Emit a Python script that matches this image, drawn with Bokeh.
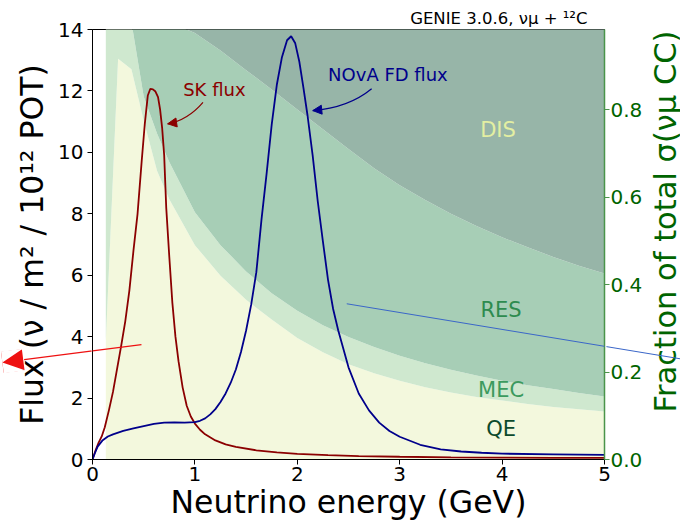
import numpy as np
from bokeh.plotting import figure
from bokeh.models import (Range1d, LinearAxis, Label, Arrow, NormalHead, OpenHead,
                          FixedTicker, NumeralTickFormatter)
from bokeh.embed import file_html
from bokeh.resources import INLINE

# ---------------- data ----------------
# cross-section fractions (right axis), per channel
e_frac = [0.13, 0.25, 0.38, 0.5, 0.63, 0.75, 1.0, 1.25, 1.5, 1.75, 2.0, 2.25, 2.5, 2.75,
          3.0, 3.25, 3.5, 3.75, 4.0, 4.25, 4.5, 4.75, 5.0]
qe_frac = [0.27, 0.916, 0.892, 0.775, 0.66, 0.595, 0.49, 0.42, 0.365, 0.32, 0.278, 0.245, 0.218,
           0.197, 0.18, 0.165, 0.153, 0.143, 0.135, 0.127, 0.12, 0.115, 0.11]
mec_frac = [0.73, 0.084, 0.108, 0.055, 0.085, 0.085, 0.075, 0.07, 0.065, 0.06, 0.062, 0.062,
            0.062, 0.06, 0.057, 0.055, 0.052, 0.049, 0.045, 0.043, 0.041, 0.037, 0.034]
res_frac = [0.0, 0.0, 0.0, 0.17, 0.255, 0.32, 0.41, 0.445, 0.46, 0.466, 0.46, 0.448, 0.43,
            0.409, 0.39, 0.373, 0.357, 0.342, 0.328, 0.315, 0.302, 0.291, 0.281]
dis_frac = [0.0, 0.0, 0.0, 0.0, 0.0, 0.0, 0.025, 0.065, 0.11, 0.154, 0.2, 0.245, 0.29, 0.334,
            0.373, 0.407, 0.438, 0.466, 0.492, 0.515, 0.537, 0.557, 0.575]

# SK flux
e_sk = [0.0, 0.03, 0.06, 0.09, 0.12, 0.16, 0.20, 0.24, 0.28, 0.32, 0.36, 0.40, 0.44, 0.48, 0.51, 0.54,
        0.565, 0.59, 0.615, 0.64, 0.66, 0.68, 0.70, 0.72, 0.75, 0.78, 0.81, 0.84, 0.88, 0.92, 0.96, 1.0,
        1.05, 1.1, 1.2, 1.3, 1.4, 1.6, 1.8, 2.0, 2.3, 2.6, 3.0, 3.5, 4.0, 4.5, 5.0]
flux_sk = [0.0, 0.3, 0.55, 0.75, 1.05, 1.6, 2.2, 2.95, 3.7, 4.5, 5.5, 6.8, 8.0, 9.7, 10.9, 11.85,
           12.07, 12.05, 11.98, 11.8, 11.4, 10.8, 9.9, 8.2, 6.6, 5.1, 4.0, 3.2, 2.35, 1.75, 1.4, 1.17,
           0.97, 0.82, 0.62, 0.49, 0.41, 0.30, 0.23, 0.18, 0.14, 0.11, 0.09, 0.07, 0.06, 0.05, 0.05]

# NOvA FD flux
e_nova = [0.0, 0.02, 0.05, 0.1, 0.15, 0.2, 0.3, 0.4, 0.5, 0.6, 0.7, 0.8, 0.9, 1.0, 1.05, 1.1, 1.15,
          1.2, 1.25, 1.3, 1.35, 1.4, 1.45, 1.5, 1.55, 1.6, 1.65, 1.7, 1.75, 1.8, 1.85, 1.9, 1.94,
          1.98, 2.02, 2.06, 2.1, 2.15, 2.2, 2.25, 2.3, 2.35, 2.4, 2.5, 2.6, 2.7, 2.8, 2.9, 3.0,
          3.2, 3.4, 3.6, 3.8, 4.0, 4.5, 5.0]
flux_nova = [0.0, 0.18, 0.42, 0.63, 0.75, 0.82, 0.93, 1.01, 1.09, 1.16, 1.2, 1.21, 1.2, 1.22, 1.26,
             1.34, 1.47, 1.64, 1.87, 2.15, 2.5, 2.93, 3.5, 4.2, 5.05, 6.1, 7.8, 9.3, 10.9, 12.2,
             13.1, 13.65, 13.78, 13.55, 12.95, 12.1, 11.2, 9.9, 8.4, 7.1, 5.85, 4.9, 4.2, 3.0, 2.15,
             1.6, 1.2, 0.93, 0.74, 0.48, 0.33, 0.26, 0.22, 0.19, 0.17, 0.15]

x_ticks = [0, 1, 2, 3, 4, 5]
y_ticks = [0, 2, 4, 6, 8, 10, 12, 14]
frac_ticks = [0.0, 0.2, 0.4, 0.6, 0.8]

channel_names = ["QE", "MEC", "RES", "DIS"]
channel_colors = ["#f3f8dd", "#cfe8cf", "#a7ceb6", "#97b5a8"]
channel_text_colors = ["#0b4a2c", "#3c9a5e", "#2e8b4f", "#e3efa2"]
channel_label_pos = [(3.99, 0.07), (3.99, 0.158), (3.99, 0.342), (3.96, 0.754)]

FONT = "DejaVu Sans"
PX = np.array([102.6, 30.71])   # approx. pixels per data unit (x: GeV, y: flux) in the frame

# ---------------- figure ----------------
p = figure(width=680, height=525, x_range=Range1d(0, 5), y_range=Range1d(0, 14),
           output_backend="svg", toolbar_location=None,
           min_border_left=92, min_border_right=75, min_border_top=29, min_border_bottom=66)
p.extra_y_ranges = {"frac": Range1d(0, 0.983)}
p.grid.visible = False
p.outline_line_color = "black"
p.outline_line_width = 1
p.background_fill_color = "white"
p.border_fill_color = "white"

p.title.text = "GENIE 3.0.6, νμ + ¹²C"
p.title.align = "right"
p.title.offset = 17
p.title.standoff = 3
p.title.text_font = FONT
p.title.text_font_size = "16.5px"
p.title.text_font_style = "normal"
p.title.text_color = "black"

# stacked fractions
fr = [np.array(qe_frac), np.array(mec_frac), np.array(res_frac), np.array(dis_frac)]
cum = np.zeros(len(e_frac))
for f, c in zip(fr, channel_colors):
    top = cum + f
    p.varea(x=e_frac, y1=cum.copy(), y2=top.copy(), fill_color=c, fill_alpha=1.0, y_range_name="frac")
    cum = top

for name, col, (lx, ly) in zip(channel_names, channel_text_colors, channel_label_pos):
    p.add_layout(Label(x=lx, y=ly, text=name, y_range_name="frac", text_align="center",
                       text_baseline="middle", text_color=col, text_font=FONT,
                       text_font_size="21px"))

# flux lines
p.line(e_sk, flux_sk, line_color="#8b0000", line_width=1.8)
p.line(e_nova, flux_nova, line_color="#00008b", line_width=1.8)

# annotations: SK
p.add_layout(Label(x=1.19, y=12.05, text="SK flux", text_align="center", text_baseline="middle",
                   text_color="#8b0000", text_font=FONT, text_font_size="18px"))
sk_t = (1.079, 11.63); sk_h = (0.734, 10.93); sk_c = (0.93, 11.05)
p.quadratic(x0=[sk_t[0]], y0=[sk_t[1]], x1=[sk_h[0]], y1=[sk_h[1]], cx=[sk_c[0]], cy=[sk_c[1]],
            line_color="#8b0000", line_width=1.2)
p.add_layout(Arrow(x_start=sk_h[0] + 0.06, y_start=sk_h[1] + 0.03, x_end=sk_h[0], y_end=sk_h[1],
                   line_color="#8b0000", line_width=1.2,
                   end=NormalHead(size=9, fill_color="#8b0000", line_color="#8b0000")))

# annotations: NOvA
p.add_layout(Label(x=2.885, y=12.53, text="NOvA FD flux", text_align="center", text_baseline="middle",
                   text_color="#00008b", text_font=FONT, text_font_size="18px"))
nv_t = (2.726, 12.07); nv_h = (2.151, 11.36); nv_c = (2.50, 11.45)
p.quadratic(x0=[nv_t[0]], y0=[nv_t[1]], x1=[nv_h[0]], y1=[nv_h[1]], cx=[nv_c[0]], cy=[nv_c[1]],
            line_color="#00008b", line_width=1.2)
p.add_layout(Arrow(x_start=nv_h[0] + 0.06, y_start=nv_h[1] + 0.02, x_end=nv_h[0], y_end=nv_h[1],
                   line_color="#00008b", line_width=1.2,
                   end=NormalHead(size=9, fill_color="#00008b", line_color="#00008b")))


def hidden_normal_head(size):
    return NormalHead(size=size, fill_alpha=0.0, line_alpha=0.0)


# stray red arrow whose head lies left of the frame.
# An arrow's shaft is drawn inside the frame and inside its own head region, so the parts
# beyond the frame are drawn through (invisible) head regions.
RED = "#ee1111"
red_tail = np.array([0.478, 3.74]); red_tip = np.array([-0.880, 3.162])
d_px = (red_tip - red_tail) * PX
u_px = d_px / np.hypot(*d_px)
head_len = 22.0
red_base = red_tip - u_px * head_len / PX
red_fill_start = red_tip - u_px * (head_len + 2.0) / PX
# thin shaft: inside the frame, then through a long hidden head up to the arrowhead base
p.add_layout(Arrow(x_start=float(red_tail[0]), y_start=float(red_tail[1]),
                   x_end=float(red_base[0]), y_end=float(red_base[1]),
                   line_color=RED, line_width=1.2, end=hidden_normal_head(68)))
# arrowhead: a thick red stroke limited to a square head region ...
p.add_layout(Arrow(x_start=float(red_fill_start[0]), y_start=float(red_fill_start[1]),
                   x_end=float(red_tip[0]), y_end=float(red_tip[1]),
                   line_color=RED, line_width=26, end=hidden_normal_head(head_len - 1.0)))
# ... trimmed to a triangle by a white stroke limited to (square minus triangle)
p.add_layout(Arrow(x_start=float(red_fill_start[0]), y_start=float(red_fill_start[1]),
                   x_end=float(red_tip[0]), y_end=float(red_tip[1]),
                   line_color="white", line_width=32,
                   end=OpenHead(size=head_len, line_alpha=0.0)))

# stray blue line that runs off the right edge
p.add_layout(Arrow(x_start=2.483, y_start=5.07, x_end=5.828, y_end=3.23,
                   line_color="#3a66c8", line_width=1.0, end=hidden_normal_head(84)))

# axes
xa = p.xaxis[0]
xa.ticker = FixedTicker(ticks=x_ticks)
xa.axis_label = "Neutrino energy (GeV)"
ya = p.yaxis[0]
ya.ticker = FixedTicker(ticks=y_ticks)
ya.axis_label = "Flux (ν / m² / 10¹² POT)"
for ax in (xa, ya):
    ax.major_label_text_font = FONT
    ax.major_label_text_font_size = "20px"
    ax.major_label_text_color = "black"
    ax.axis_label_text_font = FONT
    ax.axis_label_text_font_size = "31.5px"
    ax.axis_label_text_font_style = "normal"
    ax.axis_label_text_color = "black"
    ax.major_tick_out = 5
    ax.major_tick_in = 0
    ax.minor_tick_out = 0
    ax.minor_tick_in = 0
    ax.axis_line_color = "black"
    ax.major_tick_line_color = "black"
xa.major_label_standoff = 2
xa.axis_label_standoff = 0
ya.major_label_standoff = 4
ya.axis_label_standoff = 5

ra = LinearAxis(y_range_name="frac", ticker=FixedTicker(ticks=frac_ticks),
                formatter=NumeralTickFormatter(format="0.0"))
ra.major_label_text_font = FONT
ra.major_label_text_font_size = "20px"
ra.major_label_text_color = "#006400"
ra.axis_line_color = "#4a944a"
ra.axis_line_width = 1.5
ra.major_tick_line_color = "#4a944a"
ra.major_tick_out = 5
ra.major_tick_in = 0
ra.minor_tick_out = 0
ra.minor_tick_in = 0
ra.major_label_standoff = 1
p.add_layout(ra, "right")

# right-axis label, reading bottom-to-top as in the reference
p.add_layout(Label(x=5.595, y=7.75, text="Fraction of total σ(νμ CC)", angle=float(np.pi / 2),
                   text_align="center", text_baseline="alphabetic", text_color="#006400",
                   text_font=FONT, text_font_size="30.5px"), "right")

open("out.html", "w").write(file_html(p, INLINE))
